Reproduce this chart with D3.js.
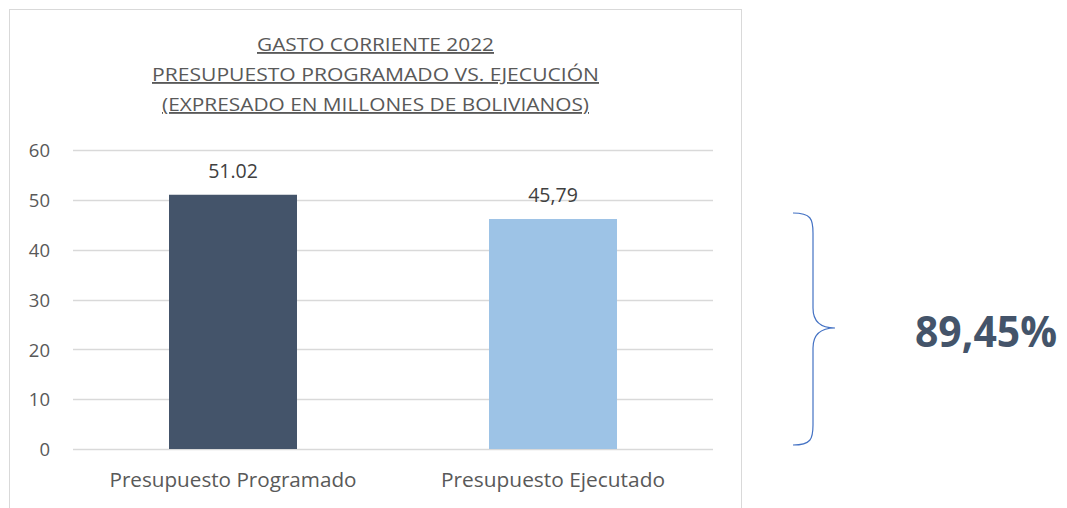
<!DOCTYPE html>
<html>
<head>
<meta charset="utf-8">
<script src="https://cdn.jsdelivr.net/npm/d3@7"></script>
<style>
  html, body { margin: 0; padding: 0; background: #fff; }
  svg { display: block; }
</style>
</head>
<body>
<svg id="chart" width="1067" height="508"></svg>
<script>
// ---- data ----
const categories = ["Presupuesto Programado", "Presupuesto Ejecutado"];
const values = [51.02, 46.15];
const valueLabels = ["51.02", "45,79"];
const yTicks = [0, 10, 20, 30, 40, 50, 60];
const titleLines = [
  "GASTO CORRIENTE 2022",
  "PRESUPUESTO PROGRAMADO VS. EJECUCIÓN",
  "(EXPRESADO EN MILLONES DE BOLIVIANOS)"
];
const percentLabel = "89,45%";

// ---- layout ----
(function () {
const svg = d3.select("#chart");
const font = "'Open Sans', Lato, sans-serif";
const textColor = "#595959";
const barColors = ["#44546A", "#9DC3E6"];

// chart border
svg.append("rect")
  .attr("x", 9.5).attr("y", 9.5)
  .attr("width", 732).attr("height", 520)
  .attr("fill", "#fff").attr("stroke", "#d9d9d9").attr("stroke-width", 1);

const x = d3.scaleBand().domain(categories).range([73, 713])
  .paddingInner(0.6).paddingOuter(0.3);
const y = d3.scaleLinear().domain([0, 60]).range([449, 150]);

// gridlines
svg.append("g").selectAll("line").data(yTicks).join("line")
  .attr("x1", 73).attr("x2", 713)
  .attr("y1", d => Math.round(y(d)) + 0.5).attr("y2", d => Math.round(y(d)) + 0.5)
  .attr("stroke", "#d9d9d9").attr("stroke-width", 1.3);

// y axis labels
const yAxis = d3.axisLeft(y).tickValues(yTicks).tickSize(0).tickPadding(0);
const gy = svg.append("g").attr("transform", "translate(50,0)").call(yAxis);
gy.select(".domain").remove();
gy.selectAll("text")
  .attr("font-family", font).attr("font-size", 18.5).attr("fill", textColor)
  .attr("dy", "0.36em");

// bars
svg.append("g").selectAll("rect").data(values).join("rect")
  .attr("x", (d, i) => x(categories[i]))
  .attr("y", d => y(d))
  .attr("width", x.bandwidth())
  .attr("height", d => y(0) - y(d))
  .attr("fill", (d, i) => barColors[i]);

// value labels
svg.append("g").selectAll("text").data(values).join("text")
  .attr("x", (d, i) => x(categories[i]) + x.bandwidth() / 2)
  .attr("y", d => y(d) - 17)
  .attr("text-anchor", "middle")
  .attr("font-family", font).attr("font-size", 19.5).attr("fill", "#404040")
  .text((d, i) => valueLabels[i]);

// x axis labels
const catWidths = [247, 224];
const xAxis = d3.axisBottom(x).tickSize(0).tickPadding(0);
const gx = svg.append("g").attr("transform", "translate(0,487)").call(xAxis);
gx.select(".domain").remove();
gx.selectAll("text")
  .attr("y", 0).attr("dy", 0)
  .attr("font-family", font).attr("font-size", 19.5).attr("fill", textColor)
  .attr("textLength", (d, i) => catWidths[i])
  .attr("lengthAdjust", "spacingAndGlyphs");

// title
const titleWidths = [237, 447, 427];
svg.append("g").selectAll("text").data(titleLines).join("text")
  .attr("x", 375.5)
  .attr("y", (d, i) => 51 + i * 30)
  .attr("text-anchor", "middle")
  .attr("font-family", font).attr("font-size", 18.5).attr("fill", textColor)
  .attr("text-decoration", "underline")
  .attr("textLength", (d, i) => titleWidths[i])
  .attr("lengthAdjust", "spacingAndGlyphs")
  .text(d => d);

// brace
const bx0 = 793, bx1 = 813, btip = 835, bTop = 213, bMid = 328, bBot = 445;
const brace = d3.path();
brace.moveTo(bx0, bTop);
brace.bezierCurveTo(bx1 - 2, bTop, bx1, bTop + 6, bx1, bTop + 20);
brace.lineTo(bx1, bMid - 20);
brace.bezierCurveTo(bx1, bMid - 6, bx1 + 8, bMid, btip, bMid);
brace.bezierCurveTo(bx1 + 8, bMid, bx1, bMid + 6, bx1, bMid + 20);
brace.lineTo(bx1, bBot - 20);
brace.bezierCurveTo(bx1, bBot - 6, bx1 - 2, bBot, bx0, bBot);
svg.append("path").attr("d", brace.toString())
  .attr("fill", "none").attr("stroke", "#4472C4").attr("stroke-width", 1.2);

// percentage
svg.append("text")
  .attr("x", 986).attr("y", 347)
  .attr("text-anchor", "middle")
  .attr("font-family", "'Open Sans', Lato, sans-serif").attr("font-weight", "bold")
  .attr("font-size", 43).attr("fill", "#44546A")
  .attr("textLength", 142).attr("lengthAdjust", "spacingAndGlyphs")
  .text(percentLabel);
})();
</script>
</body>
</html>
